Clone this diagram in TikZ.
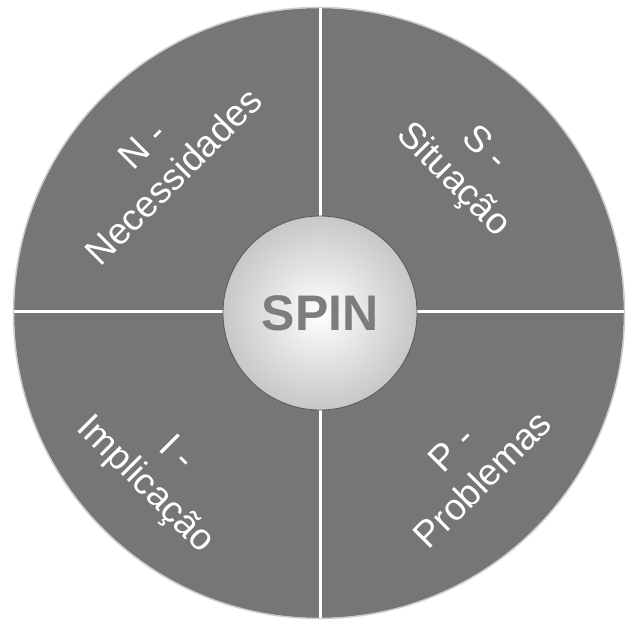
\documentclass[tikz,border=0pt]{standalone}
\usepackage{fontspec}
\setmainfont{Liberation Sans}
\usetikzlibrary{positioning}
\definecolor{quadgray}{RGB}{118,118,118}
\definecolor{spingray}{RGB}{125,125,125}
\tikzset{
  quadlabel/.style={text=white, align=center, font=\fontsize{37}{44}\selectfont},
  divider/.style={white, line width=3pt},
  hubstyle/.style={circle, minimum size=194pt, inner sep=0pt, inner color=white,
    outer color=black!22, draw=black!65, line width=0.8pt, text=spingray,
    font=\bfseries\fontsize{50}{50}\selectfont},
}

\begin{document}
\begin{tikzpicture}[x=1pt,y=1pt]
  \useasboundingbox (0,0) rectangle (628,629);
  % wheel
  \fill[quadgray] (319,316) circle (305);
  \draw[black!20, line width=1.5pt] (319,316) circle (305.5);
  \coordinate (top) at (320,621);
  \coordinate (bottom) at (320,11);
  \coordinate (left) at (14,317);
  \coordinate (right) at (624,317);
  \draw[divider] (top) -- (bottom);
  \draw[divider] (left) -- (right);
  % hub
  \node[hubstyle] (spin) at (320,316) {SPIN};
  % quadrants
  \node[quadlabel, rotate=45] (needs) at (158,468) {N -\\Necessidades};
  \node[quadlabel, rotate=-45] (situ) at (468,464) {S -\\Situação};
  \node[quadlabel, rotate=-45] (impl) at (160,159) {I -\\Implicação};
  \node[quadlabel, rotate=45] (prob) at (467,165) {P -\\Problemas};
\end{tikzpicture}
\end{document}
